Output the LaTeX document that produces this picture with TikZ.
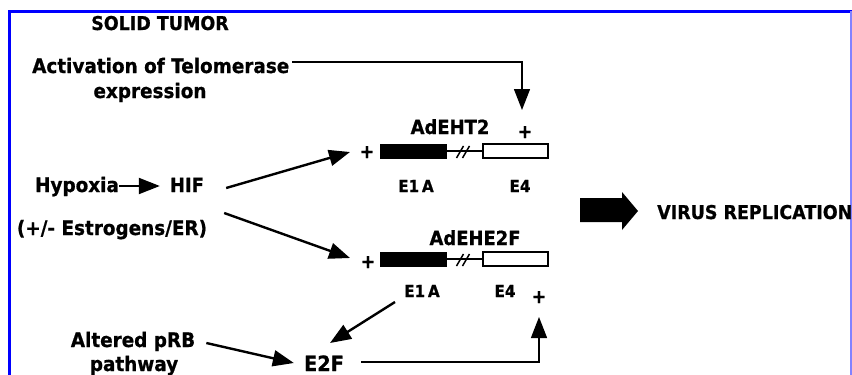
\documentclass[tikz,border=0pt]{standalone}
\usepackage{fontspec}
\setmainfont{DejaVu Sans}[BoldFeatures={FakeStretch=0.92, FakeBold=0.8}]
\usetikzlibrary{arrows.meta}
\definecolor{frameblue}{RGB}{0,0,255}
\definecolor{framelight}{RGB}{130,130,255}

\begin{document}
\begin{tikzpicture}[x=1pt,y=-1pt,
  lbl/.style={inner sep=0pt, font=\bfseries\fontsize{20}{24}\selectfont},
  gname/.style={inner sep=0pt, font=\bfseries\fontsize{19.5}{23}\selectfont},
  sml/.style={inner sep=0pt, font=\bfseries\fontsize{16.5}{20}\selectfont},
  plussign/.style={inner sep=0pt, font=\bfseries\fontsize{19}{22}\selectfont},
  tipped/.style={-{Triangle[length=21pt,width=16pt]}},
  heavy/.style={tipped, line width=2.4pt},
  link/.style={line width=1.4pt},
  exonE1/.style={draw, fill=black, line width=1pt, minimum width=66pt,
                 minimum height=14pt, inner sep=0pt},
  exonE4/.style={draw, fill=white, line width=1.5pt, minimum width=65pt,
                 minimum height=14pt, inner sep=0pt}
]
\useasboundingbox (0,0) rectangle (852,375);

% frame of the panel
\draw[frameblue, line width=3pt] (9.5,375) -- (9.5,11) -- (852,11);
\draw[framelight, line width=1.2pt] (851,11) -- (851,375);

% left-hand labels
\node[lbl, font=\bfseries\fontsize{19}{23}\selectfont, anchor=base] (tumor) at (160,30) {SOLID TUMOR};
\node[lbl, anchor=base west] (tel) at (32,73) {Activation of Telomerase};
\node[lbl, anchor=base] (expr) at (150,98) {expression};
\node[lbl, anchor=base] (hyp) at (77,192) {Hypoxia};
\node[lbl, font=\bfseries\fontsize{19.5}{23}\selectfont, anchor=base] (hif) at (187,192) {HIF};
\node[lbl, anchor=base] (estr) at (112,235) {(+/- Estrogens/ER)};
\node[lbl, anchor=base] (prb) at (133,347) {Altered pRB};
\node[lbl, anchor=base] (pathw) at (134,371) {pathway};
\node[lbl, font=\bfseries\fontsize{21}{25}\selectfont, anchor=base] (e2f) at (324,371) {E2F};

% AdEHT2 construct
\node[gname, anchor=base] (ht2) at (450,134) {AdEHT2};
\node[plussign, anchor=base] (plusT) at (525,138) {+};
\node[plussign, anchor=base] (plus1) at (367,158) {+};
\node[exonE1] (e1a1) at (413,151) {};
\node[exonE4] (e4n1) at (515.5,151) {};
\draw[link] (e1a1.east) -- (e4n1.west);
\draw[line width=1.5pt] ([shift={(10,7)}]e1a1.east) -- ([shift={(17,-5)}]e1a1.east)
                        ([shift={(16,7)}]e1a1.east) -- ([shift={(23,-5)}]e1a1.east);
\node[sml, anchor=base] (lblE1a) at (416,192) {E1\,A};
\node[sml, anchor=base] (lblE4a) at (520,192) {E4};

% AdEHE2F construct
\node[gname, anchor=base] (he2f) at (475,245) {AdEHE2F};
\node[plussign, anchor=base] (plus2) at (368,268) {+};
\node[exonE1] (e1a2) at (413,259) {};
\node[exonE4] (e4n2) at (515.5,259) {};
\draw[link] (e1a2.east) -- (e4n2.west);
\draw[line width=1.5pt] ([shift={(10,7)}]e1a2.east) -- ([shift={(17,-5)}]e1a2.east)
                        ([shift={(16,7)}]e1a2.east) -- ([shift={(23,-5)}]e1a2.east);
\node[sml, anchor=base] (lblE1b) at (422,297) {E1\,A};
\node[sml, anchor=base] (lblE4b) at (505,297) {E4};
\node[plussign, anchor=base] (plus3) at (539,303) {+};

% outcome
\fill (580,198) -- (622,198) -- (622,192) -- (638,211) -- (622,230)
      -- (622,222) -- (580,222) -- cycle;
\node[lbl, font=\bfseries\fontsize{19}{23}\selectfont, anchor=base west] (virus) at (657,219) {VIRUS REPLICATION};

% connectors
\draw[link, tipped] ([shift={(3,-11)}]tel.base east) -| ([shift={(-3,-28)}]plusT.base);
\draw[tipped, line width=2pt] ([shift={(0,-6)}]hyp.base east) -- ([shift={(-10,-6)}]hif.base west);
\draw[heavy] ([shift={(22,-4)}]hif.base east) -- ([shift={(-17,-6)}]plus1.base);
\draw[heavy] ([shift={(20,21)}]hif.base east) -- ([shift={(-18,-10)}]plus2.base);
\draw[heavy] ([shift={(-27,5)}]lblE1b.base) -- ([shift={(6,-28)}]e2f.base);
\draw[heavy] ([shift={(11,-4)}]prb.base east) -- ([shift={(-10,-8)}]e2f.base west);
\draw[link, tipped] ([shift={(17,-9)}]e2f.base east) -| ([shift={(0,14)}]plus3.base);
\end{tikzpicture}
\end{document}
